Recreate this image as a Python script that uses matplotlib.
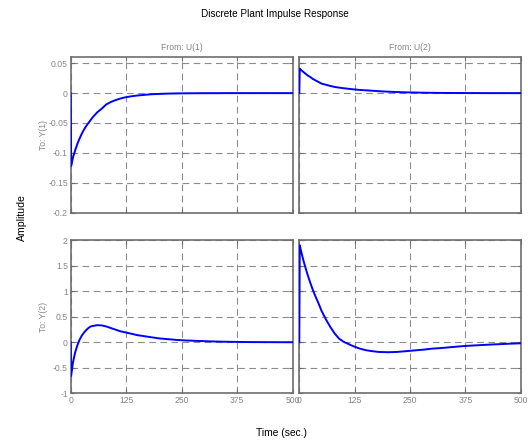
import matplotlib
matplotlib.use("Agg")
import matplotlib.pyplot as plt
from matplotlib.ticker import FuncFormatter

plt.rcParams['font.family'] = ['Liberation Sans', 'DejaVu Sans']

# sample times (sec.) and impulse response samples for each I/O pair
t = [0, 1, 5, 10, 15, 20, 25, 30, 35, 40, 45, 50, 60, 70, 80, 90, 100,
     110, 120, 135, 150, 165, 180, 200, 220, 240, 260, 280, 300, 325,
     350, 375, 400, 425, 450, 475, 500]

# U(1) -> Y(1)
y11 = [0, -0.122, -0.108, -0.096, -0.085, -0.076, -0.068, -0.061, -0.055,
       -0.050, -0.045, -0.040, -0.032, -0.026, -0.019, -0.015, -0.012,
       -0.0095, -0.0075, -0.0055, -0.004, -0.003, -0.002, -0.0013, -0.0008,
       -0.0005, -0.0003, -0.0002, -0.0001, -0.0001, 0, 0, 0, 0, 0, 0, 0]
# U(2) -> Y(1)
y12 = [0, 0.041, 0.038, 0.035, 0.032, 0.029, 0.027, 0.024, 0.022, 0.020,
       0.018, 0.016, 0.014, 0.012, 0.0103, 0.0092, 0.0082, 0.0073, 0.0065,
       0.0054, 0.0047, 0.004, 0.0032, 0.0024, 0.0018, 0.0013, 0.001, 0.0007,
       0.0005, 0.0003, 0.0002, 0.0001, 0.0001, 0, 0, 0, 0]
# U(1) -> Y(2)
y21 = [0, -0.66, -0.40, -0.20, -0.06, 0.05, 0.13, 0.19, 0.24, 0.28, 0.31,
       0.32, 0.335, 0.33, 0.31, 0.28, 0.25, 0.22, 0.20, 0.17, 0.14, 0.12,
       0.10, 0.075, 0.06, 0.045, 0.035, 0.028, 0.022, 0.015, 0.01, 0.007,
       0.004, 0.003, 0.002, 0.001, 0.001]
# U(2) -> Y(2)
y22 = [0, 1.90, 1.75, 1.58, 1.43, 1.29, 1.16, 1.04, 0.93, 0.83, 0.73, 0.62,
       0.45, 0.30, 0.17, 0.07, 0.01, -0.03, -0.07, -0.12, -0.155, -0.175,
       -0.19, -0.195, -0.19, -0.175, -0.16, -0.145, -0.125, -0.11, -0.09,
       -0.072, -0.06, -0.048, -0.038, -0.028, -0.02]

xticks = [0, 125, 250, 375, 500]
yticks_top = [-0.2, -0.15, -0.1, -0.05, 0, 0.05]
yticks_bot = [-1, -0.5, 0, 0.5, 1, 1.5, 2]

W, H = 528, 444
fig = plt.figure(figsize=(W / 100, H / 100), dpi=100)

def box(x0, y0, x1, y1):
    # pixel box (top-left origin) -> figure fraction rect
    return [x0 / W, 1 - y1 / H, (x1 - x0) / W, (y1 - y0) / H]

cols = [(70.7, 292.7), (299.3, 520.7)]
rows = [(57.3, 212.5), (240.2, 393.3)]

series = [[y11, y12], [y21, y22]]
ylims = [(-0.2, 0.06), (-1, 2)]
yticks = [yticks_top, yticks_bot]

grey_txt = '#868686'
fmt = FuncFormatter(lambda v, p: '%g' % v)

for r in range(2):
    for c in range(2):
        ax = fig.add_axes(box(cols[c][0], rows[r][0], cols[c][1], rows[r][1]))
        ax.plot(t, series[r][c], color='#0000ff', lw=1.4, zorder=3)
        ax.set_xlim(0, 500)
        ax.set_ylim(*ylims[r])
        ax.set_xticks(xticks)
        ax.set_yticks(yticks[r])
        ax.xaxis.set_major_formatter(fmt)
        ax.yaxis.set_major_formatter(fmt)
        ax.grid(True, color='#8c8c8c', lw=0.8, linestyle=(0, (6, 4)))
        ax.tick_params(direction='in', length=3, width=0.8, color='#6e6e6e',
                       labelsize=6.2, labelcolor=grey_txt, pad=2,
                       top=True, right=True)
        for s in ax.spines.values():
            s.set_color('#6e6e6e')
            s.set_linewidth(1.2)
        if c == 1:
            ax.tick_params(labelleft=False)
        if r == 0:
            ax.tick_params(labelbottom=False)

fig.text(275 / W, 1 - 14 / H, 'Discrete Plant Impulse Response',
         ha='center', va='center', fontsize=7.2, color='black')
fig.text(181.5 / W, 1 - 47 / H, 'From: U(1)', ha='center', va='center',
         fontsize=6.2, color=grey_txt)
fig.text(410 / W, 1 - 47 / H, 'From: U(2)', ha='center', va='center',
         fontsize=6.2, color=grey_txt)
fig.text(44 / W, 1 - 135.5 / H, 'To: Y(1)', ha='center', va='center',
         rotation=90, fontsize=6.2, color=grey_txt)
fig.text(44 / W, 1 - 317 / H, 'To: Y(2)', ha='center', va='center',
         rotation=90, fontsize=6.2, color=grey_txt)
fig.text(22 / W, 1 - 217.5 / H, 'Amplitude', ha='center', va='center',
         rotation=90, fontsize=7.6, color='black')
fig.text(281 / W, 1 - 432.7 / H, 'Time (sec.)', ha='center', va='center',
         fontsize=7.4, color='black')

fig.savefig('out.png', dpi=100, facecolor='white')
